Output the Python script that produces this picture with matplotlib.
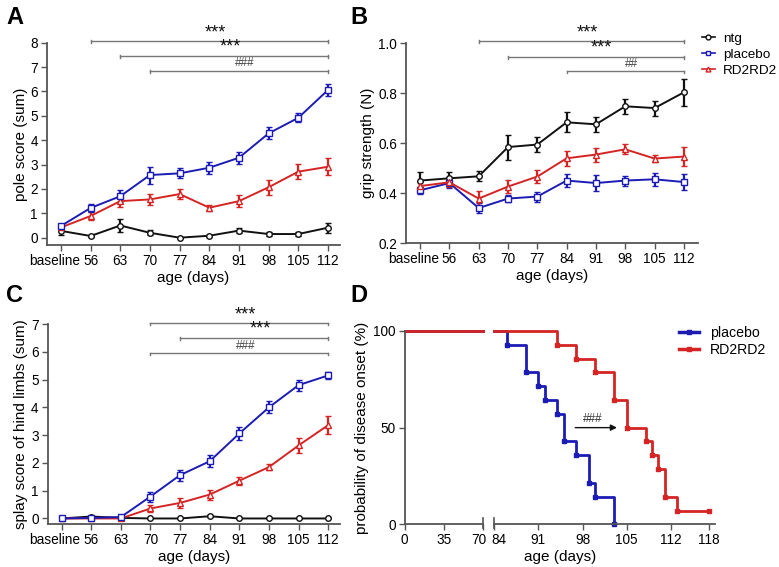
import matplotlib
matplotlib.use("Agg")
import matplotlib.pyplot as plt
import matplotlib.transforms as mtransforms
import numpy as np

plt.rcParams['font.family'] = ['Liberation Sans', 'DejaVu Sans']

BLACK = '#111111'
BLUE = '#1c1cb4'
RED = '#d42424'
SPINE = '#555555'
BAR = '#777777'

days = ['baseline', '56', '63', '70', '77', '84', '91', '98', '105', '112']

# panel A: pole score (sum)
pole_ntg = [0.28, 0.07, 0.50, 0.20, 0.00, 0.08, 0.29, 0.15, 0.15, 0.41]
pole_ntg_err = [0.15, 0.03, 0.25, 0.10, 0.00, 0.05, 0.10, 0.10, 0.10, 0.20]
pole_placebo = [0.48, 1.22, 1.70, 2.57, 2.64, 2.87, 3.28, 4.28, 4.92, 6.06]
pole_placebo_err = [0.10, 0.15, 0.25, 0.35, 0.20, 0.25, 0.25, 0.25, 0.18, 0.25]
pole_rd2 = [0.42, 0.89, 1.50, 1.57, 1.79, 1.23, 1.50, 2.07, 2.71, 2.91]
pole_rd2_err = [0.10, 0.15, 0.25, 0.22, 0.22, 0.12, 0.25, 0.30, 0.30, 0.35]

# panel B: grip strength (N)
grip_ntg = [0.451, 0.460, 0.468, 0.585, 0.595, 0.684, 0.676, 0.748, 0.741, 0.804]
grip_ntg_err = [0.035, 0.025, 0.020, 0.050, 0.030, 0.040, 0.030, 0.030, 0.030, 0.055]
grip_placebo = [0.412, 0.441, 0.341, 0.379, 0.387, 0.451, 0.441, 0.451, 0.456, 0.445]
grip_placebo_err = [0.015, 0.020, 0.020, 0.015, 0.020, 0.025, 0.032, 0.020, 0.025, 0.033]
grip_rd2 = [0.429, 0.444, 0.379, 0.427, 0.467, 0.540, 0.555, 0.576, 0.539, 0.547]
grip_rd2_err = [0.020, 0.020, 0.030, 0.025, 0.025, 0.030, 0.028, 0.020, 0.015, 0.037]

# panel C: splay score of hind limbs (sum)
splay_ntg = [0.00, 0.07, 0.02, 0.00, 0.00, 0.08, 0.00, 0.00, 0.00, 0.00]
splay_ntg_err = [0.00, 0.03, 0.00, 0.00, 0.00, 0.04, 0.00, 0.00, 0.00, 0.00]
splay_placebo = [0.00, 0.02, 0.05, 0.79, 1.56, 2.06, 3.06, 4.00, 4.80, 5.15]
splay_placebo_err = [0.00, 0.02, 0.03, 0.18, 0.20, 0.22, 0.22, 0.22, 0.20, 0.12]
splay_rd2 = [0.00, 0.00, 0.00, 0.36, 0.56, 0.86, 1.36, 1.85, 2.63, 3.36]
splay_rd2_err = [0.00, 0.00, 0.00, 0.12, 0.18, 0.18, 0.15, 0.12, 0.27, 0.33]

# panel D: probability of disease onset (%)
onset_placebo_t = [84, 86, 89, 91, 92, 94, 95, 97, 99, 100, 103]
onset_placebo = [100, 92.9, 78.6, 71.4, 64.3, 57.1, 42.9, 35.7, 21.4, 14.3, 0]
onset_rd2_t = [84, 94, 97, 100, 103, 105, 108, 109, 110, 111, 113, 118]
onset_rd2 = [100, 92.9, 85.7, 78.6, 64.3, 50, 42.9, 35.7, 28.6, 14.3, 7.1, 7.1]

# significance bars: (start index, y, text)
sig_a = [(1, 8.07, '***'), (2, 7.46, '***'), (3, 6.84, '###')]
sig_b = [(2, 1.009, '***'), (3, 0.947, '***'), (5, 0.888, '##')]
sig_c = [(3, 7.03, '***'), (4, 6.50, '***'), (3, 5.95, '###')]

TICK = 9.8
LABEL = 11
LEG = 9.7


def style_axes(ax):
    for s in ['top', 'right']:
        ax.spines[s].set_visible(False)
    for s in ['left', 'bottom']:
        ax.spines[s].set_color(SPINE)
        ax.spines[s].set_linewidth(1.3)
    ax.tick_params(direction='out', length=4.5, width=1, color=SPINE,
                   labelsize=TICK, pad=2)


def shift_label(fig, label, dx_px):
    off = mtransforms.ScaledTranslation(dx_px / fig.dpi, 0, fig.dpi_scale_trans)
    label.set_transform(label.get_transform() + off)


def line_panel(fig, ax, series, ylabel):
    x = np.arange(len(days))
    for vals, err, col, mk in series:
        ax.errorbar(x, vals, yerr=err, color=col, marker=mk, markersize=4,
                    markerfacecolor='white', markeredgecolor=col,
                    markeredgewidth=1, linewidth=1.4, elinewidth=1.6,
                    capsize=2.3, capthick=1.6, clip_on=False)
    ax.set_xticks(x)
    ax.set_xticklabels(days)
    ax.set_xlabel('age (days)', fontsize=LABEL, labelpad=2)
    ax.set_ylabel(ylabel, fontsize=LABEL, labelpad=2)
    style_axes(ax)
    shift_label(fig, ax.get_xticklabels()[0], -6.5)


def sig_bars(ax, bars, dy):
    for start, y, txt in bars:
        ax.plot([start, 9], [y, y], color=BAR, lw=1, clip_on=False)
        for xe in (start, 9):
            ax.plot([xe, xe], [y - dy, y + dy * 0.3], color=BAR, lw=1,
                    clip_on=False)
        if txt.startswith('*'):
            ax.text((start + 9) / 2 + 0.2, y, txt, ha='center',
                    va='bottom', fontsize=13, color=BLACK)
        else:
            ax.text((start + 9) / 2 + 0.2, y + dy * 0.8, txt, ha='center',
                    va='bottom', fontsize=8.5, color='#444444')


fig = plt.figure(figsize=(7.79, 5.67), dpi=100)

# A
axA = fig.add_axes([0.0603, 0.5679, 0.376, 0.3568])
line_panel(fig, axA, [(pole_ntg, pole_ntg_err, BLACK, 'o'),
                      (pole_rd2, pole_rd2_err, RED, '^'),
                      (pole_placebo, pole_placebo_err, BLUE, 's')],
           'pole score (sum)')
axA.set_xlim(-0.47, 9.4)
axA.set_ylim(-0.3, 8)
axA.set_yticks(range(0, 9))
sig_bars(axA, sig_a, 0.08)

# B
axB = fig.add_axes([0.5212, 0.5709, 0.3748, 0.3527])
line_panel(fig, axB, [(grip_ntg, grip_ntg_err, BLACK, 'o'),
                      (grip_placebo, grip_placebo_err, BLUE, 's'),
                      (grip_rd2, grip_rd2_err, RED, '^')],
           'grip strength (N)')
axB.set_xlim(-0.48, 9.48)
axB.set_ylim(0.2, 1.0)
axB.set_yticks([0.2, 0.4, 0.6, 0.8, 1.0])
axB.set_yticklabels(['0.2', '0.4', '0.6', '0.8', '1.0'])
sig_bars(axB, sig_b, 0.008)
hB = [plt.Line2D([], [], color=BLACK, marker='o', mfc='white', ms=3.5, lw=1.2),
      plt.Line2D([], [], color=BLUE, marker='s', mfc='white', ms=3.5, lw=1.2),
      plt.Line2D([], [], color=RED, marker='^', mfc='white', ms=3.5, lw=1.2)]
fig.legend(hB, ['ntg', 'placebo', 'RD2RD2'], loc='upper left',
           bbox_to_anchor=(699 / 779, 1 - 30 / 567), frameon=False,
           fontsize=LEG, handlelength=1.0, handletextpad=0.6,
           labelspacing=0.25, borderaxespad=0, borderpad=0.2)

# C
axC = fig.add_axes([0.0612, 0.0758, 0.3753, 0.3527])
line_panel(fig, axC, [(splay_ntg, splay_ntg_err, BLACK, 'o'),
                      (splay_rd2, splay_rd2_err, RED, '^'),
                      (splay_placebo, splay_placebo_err, BLUE, 's')],
           'splay score of hind limbs (sum)')
axC.set_xlim(-0.47, 9.4)
axC.set_ylim(-0.2, 7)
axC.set_yticks(range(0, 8))
sig_bars(axC, sig_c, 0.07)

# D, broken x axis
axD1 = fig.add_axes([0.5195, 0.0753, 0.1009, 0.341])
axD2 = fig.add_axes([0.6345, 0.0753, 0.2833, 0.341])
for ax in (axD1, axD2):
    style_axes(ax)
    ax.set_ylim(0, 100)
axD1.set_xlim(0, 70)
axD1.set_xticks([0, 35, 70])
axD1.set_yticks([0, 50, 100])
axD1.set_ylabel('probability of disease onset (%)', fontsize=LABEL, labelpad=3)
axD2.set_xlim(84, 119)
axD2.set_xticks([84, 91, 98, 105, 112, 118])
axD2.spines['left'].set_visible(False)
axD2.tick_params(axis='y', left=False, labelleft=False)
shift_label(fig, axD1.get_xticklabels()[-1], -4)
shift_label(fig, axD2.get_xticklabels()[0], 5)
for ax, xb in ((axD1, 1.0), (axD2, 0.0)):
    ax.plot([xb, xb], [-0.02, 0.035], transform=ax.transAxes, color=SPINE,
            lw=1.2, clip_on=False)

for t, v, col in ((onset_placebo_t, onset_placebo, BLUE),
                  (onset_rd2_t, onset_rd2, RED)):
    axD1.plot([0, 70], [v[0], v[0]], color=col, lw=2, clip_on=False)
    axD2.plot(t, v, drawstyle='steps-post', color=col, lw=2, clip_on=False)
    axD2.plot(t[1:], v[1:], 's', color=col, ms=3.5, clip_on=False)

axD2.annotate('', xy=(103.9, 50), xytext=(96.4, 50),
              arrowprops=dict(arrowstyle='-|>', color=BLACK, lw=1,
                              mutation_scale=9))
axD2.text(99.6, 51.5, '###', ha='center', va='bottom', fontsize=8.5,
          color='#333333')
fig.text(560 / 779, 0.006, 'age (days)', fontsize=LABEL, ha='center',
         va='bottom')
hD = [plt.Line2D([], [], color=BLUE, marker='s', ms=3.5, lw=2.5),
      plt.Line2D([], [], color=RED, marker='s', ms=3.5, lw=2.5)]
fig.legend(hD, ['placebo', 'RD2RD2'], loc='upper left',
           bbox_to_anchor=(676 / 779, 1 - 323 / 567), frameon=False,
           fontsize=LEG + 0.5, handlelength=1.4, handletextpad=0.8,
           labelspacing=0.2, borderaxespad=0, borderpad=0.2)

for lab, x, y in (('A', 0.008, 0.957), ('B', 0.45, 0.957),
                  ('C', 0.008, 0.467), ('D', 0.45, 0.467)):
    fig.text(x, y, lab, fontsize=17, fontweight='bold', va='baseline')

fig.savefig('out.png', dpi=100)
